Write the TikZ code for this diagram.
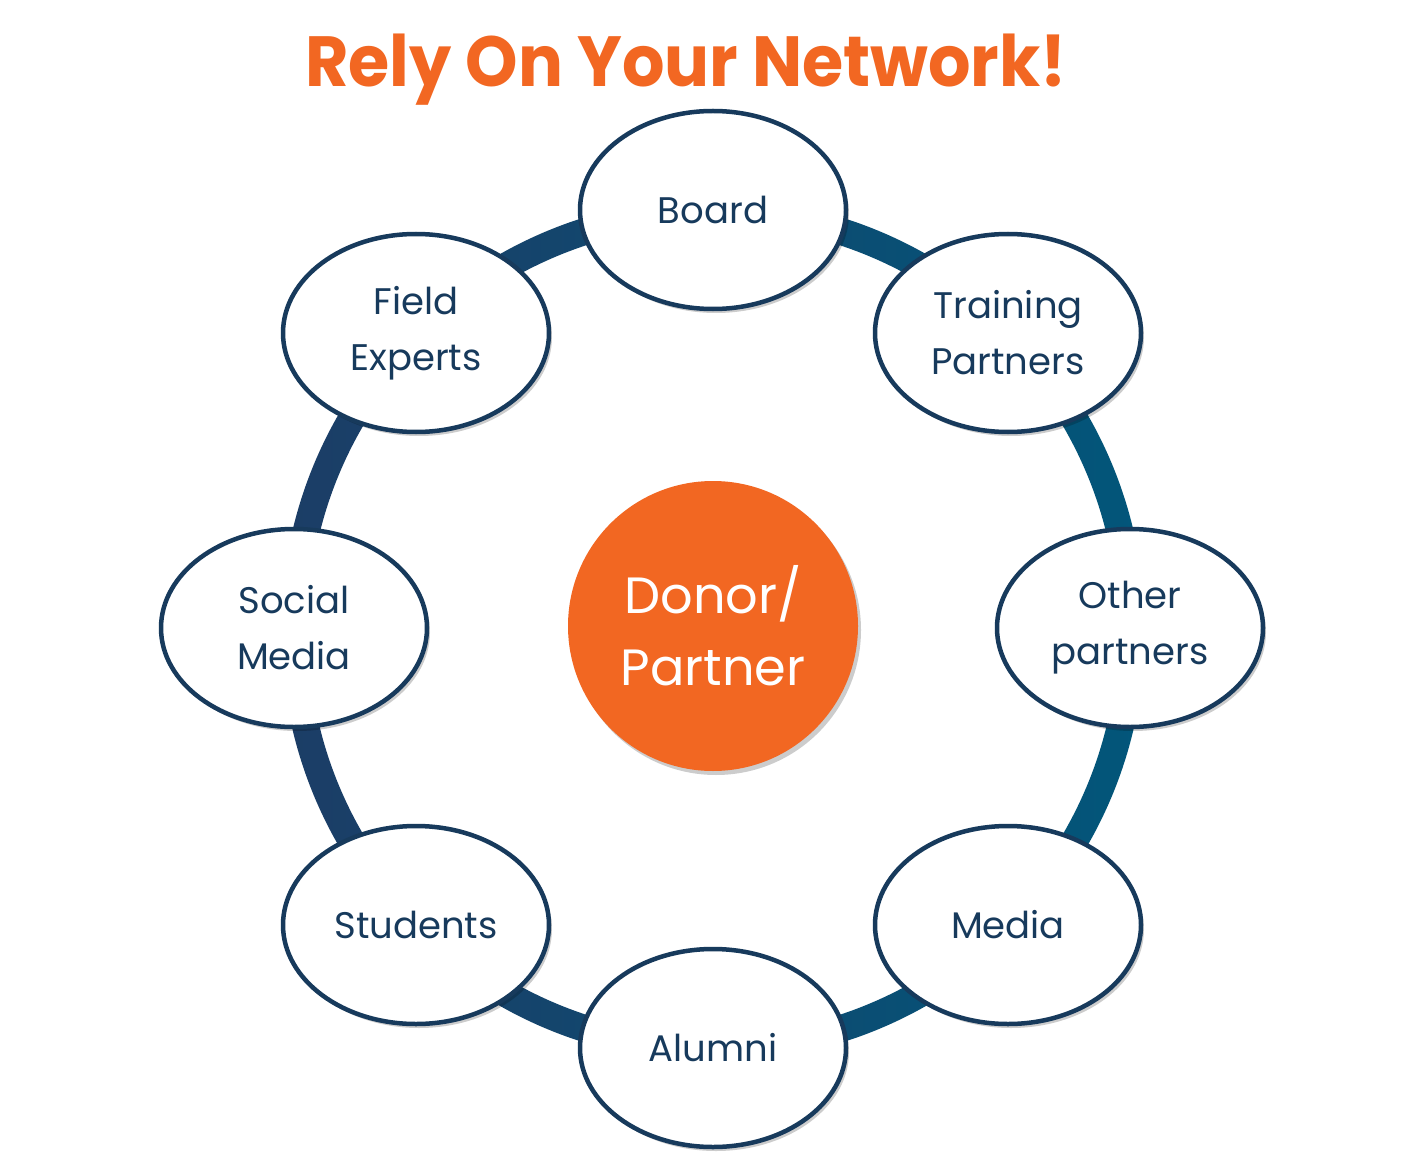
\documentclass[tikz,border=0pt]{standalone}
\usepackage{fontspec}
\setmainfont{Poppins}
\usetikzlibrary{shapes.geometric,shadows}
\definecolor{navy}{HTML}{173A5C}
\definecolor{ringL}{HTML}{1C3D66}
\definecolor{ringR}{HTML}{02567A}
\definecolor{orng}{HTML}{F26722}
\tikzset{
  member/.style={ellipse, draw=navy, line width=4.5pt, fill=white,
    minimum width=266pt, minimum height=198pt, inner sep=0pt,
    text=navy, font=\fontsize{37}{56}\selectfont, align=center,
    drop shadow={shadow xshift=3pt, shadow yshift=-4pt, opacity=0.2, fill=black}},
  hub/.style={circle, fill=orng, minimum size=290pt, inner sep=0pt,
    text=white, font=\fontsize{51}{72}\selectfont, align=center,
    drop shadow={shadow xshift=3pt, shadow yshift=-4pt, opacity=0.2, fill=black}},
  heading/.style={text=orng, font=\fontsize{71}{80}\selectfont\bfseries}
}
\begin{document}
\begin{tikzpicture}[x=1pt,y=-1pt]
\useasboundingbox (0,0) rectangle (1424,1166);
\fill[white] (0,0) rectangle (1424,1166);
\node[heading, xscale=0.94, transform shape] (title) at (686,70) {Rely On Your Network!};
\shade[left color=ringL, right color=ringR, even odd rule]
  (713,630) circle (432pt) (713,630) circle (405pt);
\node[hub] (donor) at (713,626) {Donor/\\Partner};
\node[member] (board) at (713,210) {Board};
\node[member] (train) at (1008,333) {Training\\Partners};
\node[member] (other) at (1130,628) {Other\\partners};
\node[member] (media) at (1008,925) {Media};
\node[member] (alumni) at (713,1048) {Alumni};
\node[member] (students) at (416,925) {Students};
\node[member] (social) at (294,628) {Social\\Media};
\node[member] (field) at (416,333) {Field\\Experts};
\end{tikzpicture}
\end{document}
